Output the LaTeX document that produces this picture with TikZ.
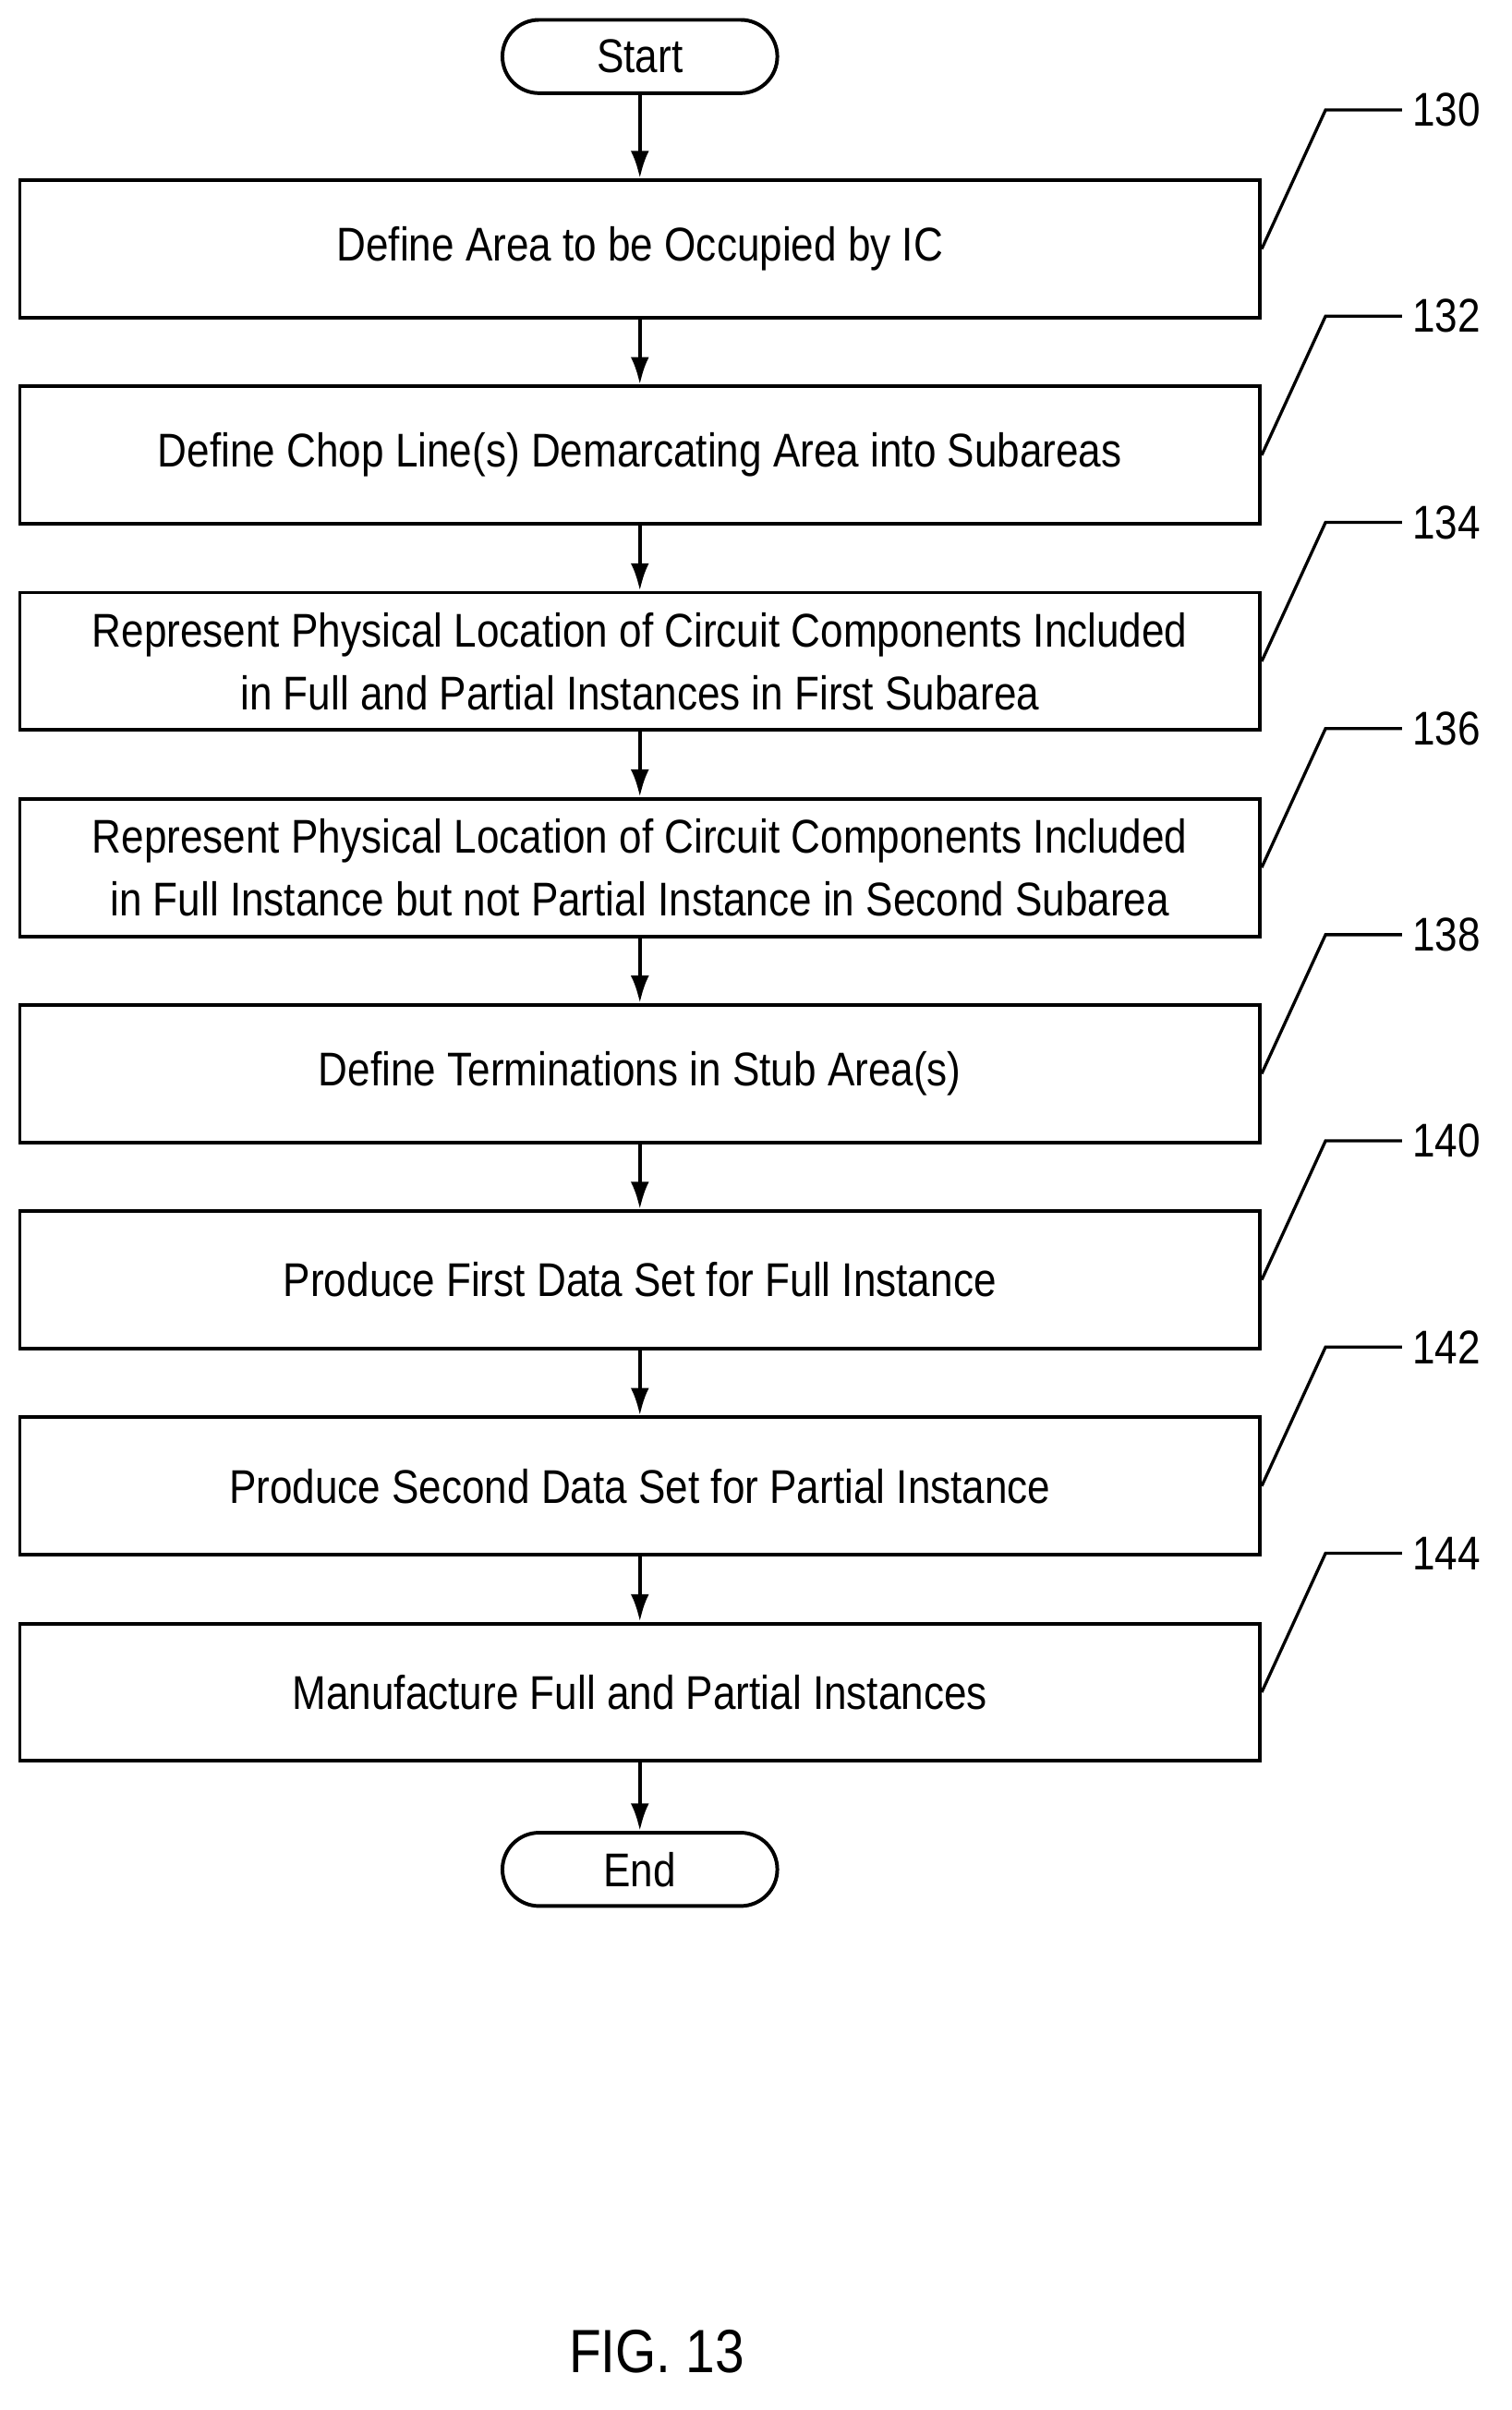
\documentclass[tikz,border=0pt]{standalone}
\usepackage{fontspec}
\setmainfont{Liberation Sans}[FakeStretch=0.86]
\usetikzlibrary{arrows.meta}
\begin{document}
\begin{tikzpicture}[x=0.5pt,y=-0.5pt,
  box/.style={draw,line width=1.2pt,minimum width=406pt,minimum height=45pt,inner sep=0pt,align=center,font=\fontsize{15.5pt}{20.5pt}\selectfont},
  term/.style={draw,line width=1.2pt,rounded corners=12pt,minimum width=90pt,minimum height=24pt,inner sep=0pt,font=\fontsize{15.5pt}{20.5pt}\selectfont},
  arr/.style={-{Latex[length=9pt,width=6pt]},line width=1.2pt},
  lead/.style={line width=1pt},
  lab/.style={font=\fontsize{15.5pt}{18pt}\selectfont,anchor=west}]
\useasboundingbox (0,0) rectangle (990,1578);
\node[term] (s) at (419,37) {Start};
\node[box] (b1) at (419,163) {Define Area to be Occupied by IC};
\node[box] (b2) at (419,298) {Define Chop Line(s) Demarcating Area into Subareas};
\node[box] (b3) at (419,433) {Represent Physical Location of Circuit Components Included\\in Full and Partial Instances in First Subarea};
\node[box] (b4) at (419,568) {Represent Physical Location of Circuit Components Included\\in Full Instance but not Partial Instance in Second Subarea};
\node[box] (b5) at (419,703) {Define Terminations in Stub Area(s)};
\node[box] (b6) at (419,838) {Produce First Data Set for Full Instance};
\node[box] (b7) at (419,973) {Produce Second Data Set for Partial Instance};
\node[box] (b8) at (419,1108) {Manufacture Full and Partial Instances};
\node[term] (e) at (419,1224) {End};
\draw[arr] (s) -- (b1);
\draw[arr] (b1) -- (b2);
\draw[arr] (b2) -- (b3);
\draw[arr] (b3) -- (b4);
\draw[arr] (b4) -- (b5);
\draw[arr] (b5) -- (b6);
\draw[arr] (b6) -- (b7);
\draw[arr] (b7) -- (b8);
\draw[arr] (b8) -- (e);
\foreach \n/\t [count=\i from 0] in {b1/130,b2/132,b3/134,b4/136,b5/138,b6/140,b7/142,b8/144}{
  \coordinate (k\i) at (868,{72+135*\i});
  \node[lab] (l\i) at (918,{72+135*\i}) {\t};
  \draw[lead] (\n.east) -- (k\i) -- (l\i.west);
}
\node[font=\fontsize{20pt}{24pt}\selectfont] (fig) at (430,1540) {FIG. 13};
\end{tikzpicture}
\end{document}
